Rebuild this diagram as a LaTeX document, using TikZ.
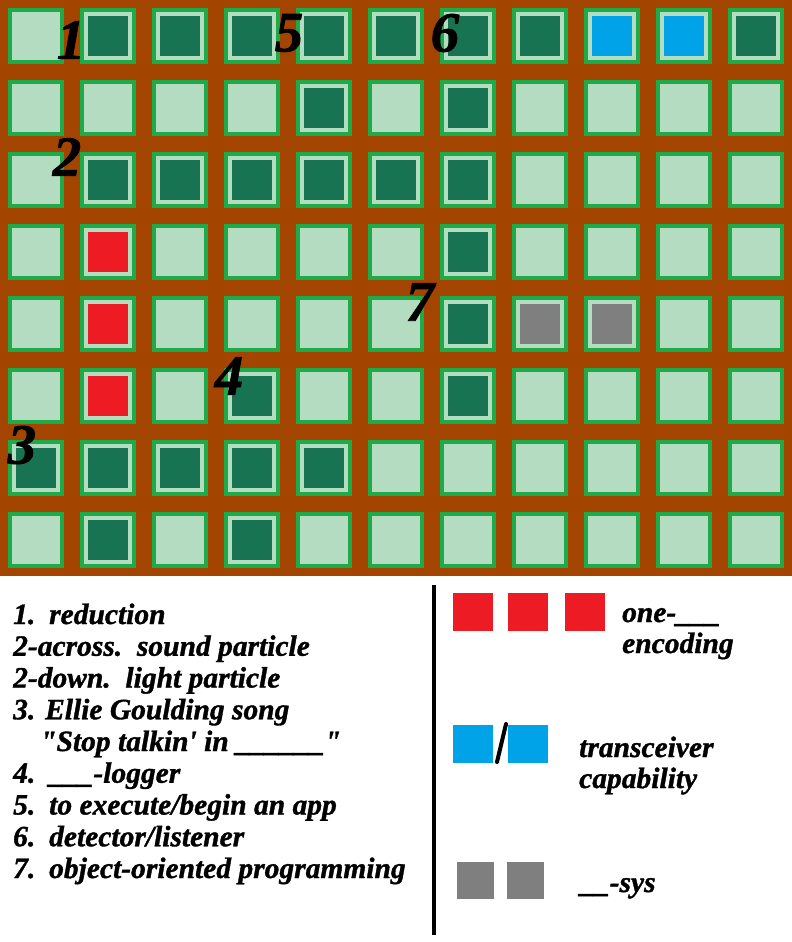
\documentclass[tikz,border=0pt]{standalone}
\usepackage{fontspec}
\setmainfont{Liberation Serif}[BoldItalicFeatures={FakeBold=1.2}]
\definecolor{board}{HTML}{A34400}
\definecolor{frame}{HTML}{1DAA48}
\definecolor{cellL}{HTML}{B4DCC0}
\definecolor{cellD}{HTML}{177352}
\definecolor{cellR}{HTML}{ED1C24}
\definecolor{cellB}{HTML}{00A2E8}
\definecolor{cellG}{HTML}{7F7F7F}

\begin{document}
\begin{tikzpicture}[x=1pt,y=-1pt,
	cell/.style={draw=frame,fill=cellL,line width=4pt,minimum size=52pt,inner sep=0pt},
	core/.style={minimum size=40pt,inner sep=0pt},
	num/.style={inner sep=0pt,font=\fontsize{57}{57}\selectfont\bfseries\itshape},
	clue/.style={anchor=base west,inner sep=0pt,font=\fontsize{29.5}{32}\selectfont\bfseries\itshape},
	key/.style={minimum width=40pt,minimum height=38pt,inner sep=0pt}]

	\useasboundingbox (0, 0) rectangle (792, 942);
	\fill [board] (0, 0) rectangle (792, 576);

	\foreach \row [count=\r from 0] in {
			{L,D,D,D,D,D,D,D,B,B,D},
			{L,L,L,L,D,L,D,L,L,L,L},
			{L,D,D,D,D,D,D,L,L,L,L},
			{L,R,L,L,L,L,D,L,L,L,L},
			{L,R,L,L,L,L,D,G,G,L,L},
			{L,R,L,D,L,L,D,L,L,L,L},
			{D,D,D,D,D,L,L,L,L,L,L},
			{L,D,L,D,L,L,L,L,L,L,L}} {
		\foreach \k [count=\c from 0] in \row {
			\node [cell] (c\r-\c) at (36+72*\c, 36+72*\r) {};
			\node [core, fill=cell\k] (i\r-\c) at (c\r-\c) {};
		}
	}

	\node [num] (n1) at (71, 40) {1};
	\node [num] (n2) at (67, 157) {2};
	\node [num] (n3) at (22, 445) {3};
	\node [num] (n4) at (229, 376) {4};
	\node [num] (n5) at (289, 33) {5};
	\node [num] (n6) at (445, 33) {6};
	\node [num] (n7) at (420, 302) {7};

	\foreach \txt [count=\i] in {
			\makebox[36pt][l]{1.}reduction,
			2-across.\ \ sound particle,
			2-down.\ \ light particle,
			3. Ellie Goulding song,
			\hspace*{27pt}\textquotedbl Stop talkin\textquotesingle{} in \_\_\_\_\_\_\textquotedbl,
			\makebox[36pt][l]{4.}\_\_\_-logger,
			\makebox[36pt][l]{5.}to execute/begin an app,
			\makebox[36pt][l]{6.}detector/listener,
			\makebox[36pt][l]{7.}object-oriented programming}
		\node [clue] (t\i) at (13, 592.25+31.75*\i) {\txt};

	\draw [line width=4pt] (434, 585) -- (434, 935);

	\node [key, fill=cellR] (hot1) at (473, 612) {};
	\node [key, fill=cellR] (hot2) at (528, 612) {};
	\node [key, fill=cellR] (hot3) at (585, 612) {};
	\node [clue] (hotA) at (622, 622) {one-\_\_\_};
	\node [clue] (hotB) at (622, 653) {encoding};

	\node [key, fill=cellB] (rx) at (473, 743.5) {};
	\node [key, fill=cellB] (tx) at (528, 743.5) {};
	\draw [line width=4pt, line cap=round] (506, 724) -- (497, 762);
	\node [clue] (trxA) at (579, 757) {transceiver};
	\node [clue] (trxB) at (579, 788) {capability};

	\node [key, fill=cellG, minimum width=37pt, minimum height=37pt] (sys1) at (475.5, 880.5) {};
	\node [key, fill=cellG, minimum width=37pt, minimum height=37pt] (sys2) at (525.5, 880.5) {};
	\node [clue] (sysA) at (580, 892) {\_\_-sys};

\end{tikzpicture}
\end{document}
